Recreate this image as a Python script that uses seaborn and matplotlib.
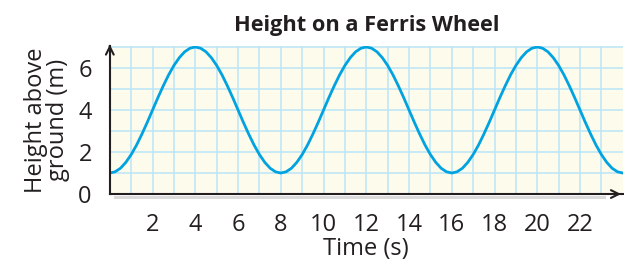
import matplotlib
matplotlib.use("Agg")
import matplotlib.pyplot as plt
from matplotlib.patches import Rectangle
import pandas as pd
import seaborn as sns

# time in seconds, one reading every quarter second
time_s = [i * 0.25 for i in range(97)]
# height above ground (m)
height_m = [
    1.00, 1.06, 1.23, 1.51, 1.88, 2.33, 2.85, 3.41, 4.00, 4.59, 5.15, 5.67, 6.12, 6.49, 6.77, 6.94,
    7.00, 6.94, 6.77, 6.49, 6.12, 5.67, 5.15, 4.59, 4.00, 3.41, 2.85, 2.33, 1.88, 1.51, 1.23, 1.06,
    1.00, 1.06, 1.23, 1.51, 1.88, 2.33, 2.85, 3.41, 4.00, 4.59, 5.15, 5.67, 6.12, 6.49, 6.77, 6.94,
    7.00, 6.94, 6.77, 6.49, 6.12, 5.67, 5.15, 4.59, 4.00, 3.41, 2.85, 2.33, 1.88, 1.51, 1.23, 1.06,
    1.00, 1.06, 1.23, 1.51, 1.88, 2.33, 2.85, 3.41, 4.00, 4.59, 5.15, 5.67, 6.12, 6.49, 6.77, 6.94,
    7.00, 6.94, 6.77, 6.49, 6.12, 5.67, 5.15, 4.59, 4.00, 3.41, 2.85, 2.33, 1.88, 1.51, 1.23, 1.06,
    1.00,
]
x_ticks = [2, 4, 6, 8, 10, 12, 14, 16, 18, 20, 22]
y_ticks = [0, 2, 4, 6]

sns.set_style("white")
plt.rcParams["font.family"] = ["Open Sans", "DejaVu Sans"]

df = pd.DataFrame({"Time (s)": time_s, "Height": height_m})
ink = "#231f20"

fig = plt.figure(figsize=(6.24, 2.64), dpi=100)
ax = fig.add_axes([0.176, 0.265, 0.822, 0.561])
ax.set_facecolor("#fdfbec")

sns.lineplot(data=df, x="Time (s)", y="Height", color="#00a3e0", linewidth=2.0, ax=ax)

ax.set_xlim(0, 24)
ax.set_ylim(0, 7.05)
ax.set_xticks(range(1, 24), minor=True)
ax.set_yticks(range(1, 8), minor=True)
ax.set_xticks(x_ticks)
ax.set_yticks(y_ticks)
ax.grid(which="both", color="#bfe6f7", linewidth=1.2)
ax.set_axisbelow(True)

for side in ["top", "right"]:
    ax.spines[side].set_visible(False)
for side in ["left", "bottom"]:
    ax.spines[side].set_color(ink)
    ax.spines[side].set_linewidth(1.5)

ax.tick_params(which="major", length=5, width=1.2, color=ink,
               labelsize=17, labelcolor=ink)
ax.tick_params(axis="x", which="major", pad=9)
ax.tick_params(axis="y", which="major", pad=8)
ax.tick_params(which="minor", length=0)

# grey shadow under the time axis
ax.add_patch(Rectangle((0.2, -0.25), 23.0, 0.18, color="#dadada",
                       clip_on=False, zorder=0, lw=0))

# arrow heads at the ends of the axes
ax.annotate("", xy=(0, 7.25), xytext=(0, 6.9),
            arrowprops=dict(arrowstyle="->", color=ink, lw=1.5, mutation_scale=14),
            annotation_clip=False)
ax.annotate("", xy=(24.05, 0), xytext=(23.5, 0),
            arrowprops=dict(arrowstyle="->", color=ink, lw=1.5, mutation_scale=14),
            annotation_clip=False)

ax.set_title("Height on a Ferris Wheel", fontsize=15.7, fontweight="bold",
             color=ink, pad=11)
ax.set_xlabel("Time (s)", fontsize=17, color=ink, labelpad=0)
ax.set_ylabel("Height above\nground (m)", fontsize=17, color=ink,
              labelpad=6, linespacing=0.9)

fig.savefig("out.png", dpi=100)
